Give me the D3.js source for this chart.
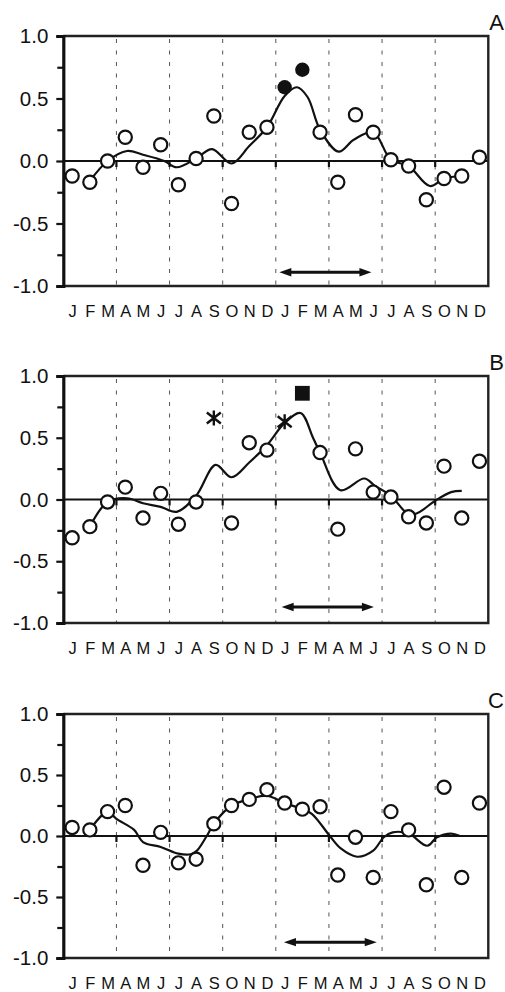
<!DOCTYPE html>
<html>
<head>
<meta charset="utf-8">
<script src="https://cdn.jsdelivr.net/npm/d3@7"></script>
<style>
  body { margin: 0; background: #fff; }
  svg { display: block; }
  text { font-family: "Liberation Sans", Arial, sans-serif; fill: #111; }
</style>
</head>
<body>
<div id="chart"></div>
<script>
// month letters, two years
var months = ["J","F","M","A","M","J","J","A","S","O","N","D",
              "J","F","M","A","M","J","J","A","S","O","N","D"];
var yTicks = [-1, -0.5, 0, 0.5, 1];
var yTickLabels = ["-1.0", "-0.5", "0.0", "0.5", "1.0"];
var yMinor = [-0.75, -0.25, 0.25, 0.75];
var quarterBreaks = [3, 6, 9, 12, 15, 18, 21];

// panel A
var obsA = [-0.12,-0.17,0.00,0.19,-0.05,0.13,-0.19,0.02,0.36,-0.34,0.23,0.27,
            null,null,0.23,-0.17,0.37,0.23,0.01,-0.04,-0.31,-0.14,-0.12,0.03];
var filledA = [[12, 0.59], [13, 0.73]];
var fitA = [[1,-0.16],[2,0.0],[3.1,0.08],[4,0.05],[5.2,0.0],[5.9,-0.05],[7,0.02],
            [7.9,0.095],[9,-0.02],[10,0.12],[11,0.27],[12,0.52],[12.7,0.59],[13.3,0.51],
            [14,0.25],[15.05,0.075],[15.9,0.17],[17,0.23],[18,0.01],[19,-0.04],
            [20.2,-0.20],[21,-0.14],[22,-0.12]];
var arrowA = [11.7, 16.9, -0.89];

// panel B
var obsB = [-0.31,-0.22,-0.02,0.10,-0.15,0.05,-0.20,-0.02,null,-0.19,0.46,0.40,
            null,null,0.38,-0.24,0.41,0.06,0.02,-0.14,-0.19,0.27,-0.15,0.31];
var starsB = [[8, 0.66], [12, 0.63]];
var squareB = [[13, 0.86]];
var fitB = [[1,-0.22],[2,-0.02],[3.1,0.01],[4,-0.03],[5,-0.06],[5.9,-0.10],[7,0.03],
            [8.1,0.28],[9,0.18],[10,0.30],[11,0.44],[12,0.62],[12.9,0.70],[13.6,0.50],
            [14,0.38],[15.15,0.075],[16.5,0.17],[17.1,0.11],[18,0.03],[19,-0.12],
            [19.5,-0.11],[20.5,-0.01],[21.4,0.06],[22,0.07]];
var arrowB = [11.83, 17.04, -0.87];

// panel C
var obsC = [0.07,0.05,0.20,0.25,-0.24,0.03,-0.22,-0.19,0.10,0.25,0.30,0.38,
            0.27,0.22,0.24,-0.32,-0.01,-0.34,0.20,0.05,-0.40,0.40,-0.34,0.27];
var fitC = [[1,0.05],[2,0.20],[2.5,0.14],[3.5,0.05],[4,-0.05],[5,-0.09],[6,-0.145],
            [6.7,-0.15],[7.05,-0.12],[7.6,0.0],[8,0.10],[9,0.25],[10,0.30],[11,0.33],
            [12,0.27],[13,0.22],[13.55,0.18],[14.55,0.0],[15.15,-0.10],[16.1,-0.17],
            [17,-0.12],[17.6,-0.01],[18.1,0.03],[19,0.02],[20.05,-0.08],[20.6,-0.01],
            [21.4,0.02],[21.9,0.0]];
var arrowC = [11.96, 17.2, -0.87];

var width = 505, height = 992;
var svg = d3.select("#chart").append("svg")
    .attr("width", width)
    .attr("height", height);

var xScale = d3.scaleLinear()
  .domain([-0.5, 23.5])
  .range([63.3, 488.3]);

var drawPanel = (p) => {
  var yScale = d3.scaleLinear().domain([-1, 1]).range([p.bottom, p.top]);
  var g = svg.append("g");

  // quarter dashed lines
  g.append("g").selectAll("line")
    .data(quarterBreaks).enter().append("line")
    .attr("x1", d => xScale(d - 0.5)).attr("x2", d => xScale(d - 0.5))
    .attr("y1", p.top + 3).attr("y2", p.bottom)
    .attr("stroke", "#555").attr("stroke-width", 1)
    .attr("stroke-dasharray", "4,7.5");

  // zero line + small ticks below it
  g.append("line")
    .attr("x1", xScale.range()[0]).attr("x2", xScale.range()[1])
    .attr("y1", yScale(0)).attr("y2", yScale(0))
    .attr("stroke", "#111").attr("stroke-width", 2);
  g.append("g").selectAll("line")
    .data(quarterBreaks).enter().append("line")
    .attr("x1", d => xScale(d - 0.5)).attr("x2", d => xScale(d - 0.5))
    .attr("y1", yScale(0)).attr("y2", yScale(0) + 6)
    .attr("stroke", "#111").attr("stroke-width", 2.2);

  // smoothed curve
  var line = d3.line()
    .x(d => xScale(d[0]))
    .y(d => yScale(d[1]))
    .curve(d3.curveCatmullRom.alpha(0.5));
  g.append("path")
    .datum(p.fit)
    .attr("d", line)
    .attr("fill", "none")
    .attr("stroke", "#111")
    .attr("stroke-width", 2.2);

  // open circles
  g.append("g").selectAll("circle")
    .data(p.obs.map((v, i) => [i, v]).filter(d => d[1] !== null))
    .enter().append("circle")
    .attr("cx", d => xScale(d[0]))
    .attr("cy", d => yScale(d[1]))
    .attr("r", 6.6)
    .attr("fill", "#fff")
    .attr("stroke", "#111")
    .attr("stroke-width", 2.2);

  if (p.filled) {
    g.append("g").selectAll("circle")
      .data(p.filled).enter().append("circle")
      .attr("cx", d => xScale(d[0]))
      .attr("cy", d => yScale(d[1]))
      .attr("r", 7.2)
      .attr("fill", "#111");
  }
  if (p.stars) {
    g.append("g").selectAll("path")
      .data(p.stars).enter().append("path")
      .attr("transform", d => `translate(${xScale(d[0])},${yScale(d[1])})`)
      .attr("d", "M0,-7.5V7.5M-7,-5.5L7,5.5M-7,5.5L7,-5.5")
      .attr("stroke", "#111")
      .attr("stroke-width", 2.4)
      .attr("fill", "none");
  }
  if (p.squares) {
    g.append("g").selectAll("rect")
      .data(p.squares).enter().append("rect")
      .attr("x", d => xScale(d[0]) - 7.4)
      .attr("y", d => yScale(d[1]) - 7.4)
      .attr("width", 14.8).attr("height", 14.8)
      .attr("fill", "#111");
  }

  // double arrow
  var ax1 = xScale(p.arrow[0]), ax2 = xScale(p.arrow[1]), ay = yScale(p.arrow[2]);
  g.append("line")
    .attr("x1", ax1 + 6).attr("x2", ax2 - 6)
    .attr("y1", ay).attr("y2", ay)
    .attr("stroke", "#111").attr("stroke-width", 3);
  g.append("path")
    .attr("d", `M${ax1},${ay}L${ax1 + 12},${ay - 4.2}L${ax1 + 12},${ay + 4.2}Z` +
               `M${ax2},${ay}L${ax2 - 12},${ay - 4.2}L${ax2 - 12},${ay + 4.2}Z`)
    .attr("fill", "#111");

  // frame
  g.append("path")
    .attr("d", `M${xScale.range()[0]},${p.top}H${xScale.range()[1]}V${p.bottom}H${xScale.range()[0]}`)
    .attr("fill", "none").attr("stroke", "#222").attr("stroke-width", 2.4);

  // y axis
  var yAxis = d3.axisLeft(yScale)
    .tickValues(yTicks)
    .tickFormat((d, i) => yTickLabels[i])
    .tickSize(7)
    .tickPadding(8);
  var ya = g.append("g")
    .attr("class", "y axis")
    .attr("transform", `translate(${xScale.range()[0]},0)`)
    .call(yAxis);
  ya.select(".domain").attr("stroke", "#111").attr("stroke-width", 3.2);
  ya.selectAll(".tick line").attr("stroke", "#111").attr("stroke-width", 2.2);
  ya.selectAll("text").attr("font-size", 20.5).attr("font-family", "Liberation Sans, Arial, sans-serif").attr("fill", "#111");

  var yMinorAxis = d3.axisLeft(yScale)
    .tickValues(yMinor)
    .tickFormat("")
    .tickSize(6);
  var ym = g.append("g")
    .attr("transform", `translate(${xScale.range()[0]},0)`)
    .call(yMinorAxis);
  ym.select(".domain").remove();
  ym.selectAll(".tick line").attr("stroke", "#111").attr("stroke-width", 2.2);

  // month letters
  var xAxis = d3.axisBottom(xScale)
    .tickValues(d3.range(months.length))
    .tickFormat((d, i) => months[i])
    .tickSize(0)
    .tickPadding(19);
  var xa = g.append("g")
    .attr("class", "x axis")
    .attr("transform", `translate(0,${p.bottom})`)
    .call(xAxis);
  xa.select(".domain").remove();
  xa.selectAll("text").attr("font-size", 16.5).attr("font-family", "Liberation Sans, Arial, sans-serif").attr("fill", "#111");

  // panel letter
  g.append("text")
    .attr("x", 504).attr("y", p.top - 6.5)
    .attr("text-anchor", "end")
    .attr("font-size", 22)
    .text(p.label);
};

drawPanel({label: "A", top: 36, bottom: 286, obs: obsA, fit: fitA, filled: filledA, arrow: arrowA});
drawPanel({label: "B", top: 376, bottom: 623, obs: obsB, fit: fitB, stars: starsB, squares: squareB, arrow: arrowB});
drawPanel({label: "C", top: 714, bottom: 958, obs: obsC, fit: fitC, arrow: arrowC});
</script>
</body>
</html>
